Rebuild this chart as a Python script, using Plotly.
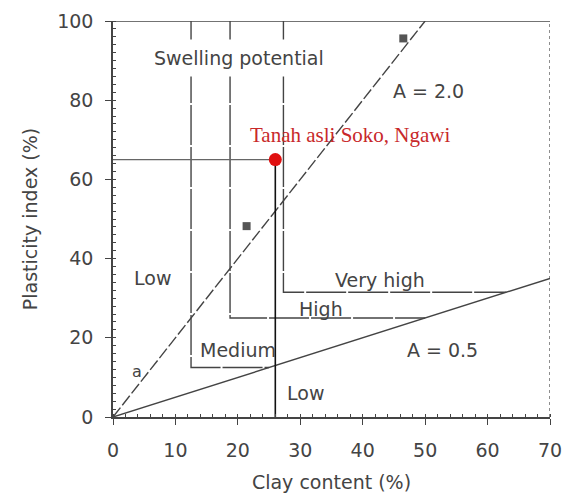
import plotly.graph_objects as go

# ---- data ----
clay_ticks = [0, 10, 20, 30, 40, 50, 60, 70]
pi_ticks = [0, 20, 40, 60, 80, 100]
activity_values = [2.0, 0.5]
activity_labels = ["A = 2.0", "A = 0.5"]
activity_label_x = [50.6, 52.7]
activity_label_y = [82.3, 16.9]

# staircase boundaries of swelling potential
boundary_x = [12.5, 18.75, 27.3]
boundary_bottom = [12.5, 25.0, 31.5]

zone_labels = ["Low", "Medium", "High", "Very high", "Low"]
zone_x = [6.4, 20.1, 33.3, 42.8, 30.9]
zone_y = [35.1, 16.9, 27.4, 34.5, 6.0]

sample_clay = [46.5, 21.4]
sample_pi = [95.6, 48.2]

soil_name = "Tanah asli Soko, Ngawi"
soil_clay = [26.0]
soil_pi = [65.0]

X_MAX, Y_MAX = 70, 100
ink = "#444444"
font_family = "DejaVu Sans, sans-serif"
FS = 19

fig = go.Figure()

# activity lines
for a in activity_values:
    x_end = min(X_MAX, Y_MAX / a)
    fig.add_trace(go.Scatter(x=[0, x_end], y=[0, a * x_end], mode="lines",
                             line=dict(color=ink, width=1.4,
                                       dash="12px,3px" if a > 1 else "solid"),
                             hoverinfo="skip", showlegend=False))

# staircase boundaries
low_a = min(activity_values)
for bx, bb in zip(boundary_x, boundary_bottom):
    fig.add_trace(go.Scatter(x=[bx, bx, bb / low_a], y=[Y_MAX, bb, bb], mode="lines",
                             line=dict(color=ink, width=1.4, dash="40px,2px"),
                             hoverinfo="skip", showlegend=False))

# reference lines to the soil point
fig.add_trace(go.Scatter(x=[0, soil_clay[0]], y=[soil_pi[0], soil_pi[0]], mode="lines",
                         line=dict(color="#666666", width=1.2),
                         hoverinfo="skip", showlegend=False))
fig.add_trace(go.Scatter(x=[soil_clay[0], soil_clay[0]], y=[soil_pi[0], 0], mode="lines",
                         line=dict(color="#111111", width=1.6),
                         hoverinfo="skip", showlegend=False))

# sample squares
fig.add_trace(go.Scatter(x=sample_clay, y=sample_pi, mode="markers",
                         marker=dict(symbol="square", size=8, color="#555555"),
                         showlegend=False))

# soil point
fig.add_trace(go.Scatter(x=soil_clay, y=soil_pi, mode="markers",
                         marker=dict(symbol="circle", size=13, color="#e01010"),
                         showlegend=False))

# borders (top solid, right dotted)
fig.add_shape(type="line", x0=0, x1=X_MAX, y0=Y_MAX, y1=Y_MAX,
              line=dict(color=ink, width=1.6))
fig.add_shape(type="line", x0=X_MAX, x1=X_MAX, y0=0, y1=Y_MAX,
              line=dict(color=ink, width=1.2, dash="dot"))

annotations = []
annotations.append(dict(x=20.2, y=90.7, text="Swelling potential", showarrow=False,
                        font=dict(size=FS, color=ink, family=font_family),
                        bgcolor="white", borderpad=7))
for t, x, y in zip(activity_labels, activity_label_x, activity_label_y):
    annotations.append(dict(x=x, y=y, text=t, showarrow=False,
                            font=dict(size=FS, color=ink, family=font_family)))
for t, x, y in zip(zone_labels, zone_x, zone_y):
    annotations.append(dict(x=x, y=y, text=t, showarrow=False,
                            font=dict(size=FS, color=ink, family=font_family)))
annotations.append(dict(x=3.8, y=11.5, text="a", showarrow=False,
                        font=dict(size=16, color=ink, family=font_family)))
annotations.append(dict(x=21.6, y=71.3, text=soil_name, showarrow=False, xanchor="left",
                        font=dict(size=21, color="#c8282a",
                                  family="Liberation Serif, Times New Roman, serif")))

fig.update_layout(
    width=567, height=496,
    margin=dict(l=113, r=17, t=21, b=79),
    paper_bgcolor="white", plot_bgcolor="white",
    annotations=annotations,
    font=dict(family=font_family, color=ink),
)
fig.update_xaxes(range=[0, X_MAX], tickvals=clay_ticks, ticktext=[str(v) for v in clay_ticks],
                 automargin=False,
                 showgrid=False, zeroline=False, showline=True, linecolor=ink, linewidth=1.6,
                 ticks="outside", ticklen=6, tickcolor=ink, tickwidth=1.4,
                 minor=dict(dtick=2, ticks="inside", ticklen=3, tickcolor=ink, tickwidth=1.4),
                 tickfont=dict(size=FS, color=ink, family=font_family), ticklabelstandoff=9,
                 title=dict(text="Clay content (%)",
                            font=dict(size=FS, color=ink, family=font_family), standoff=16))
fig.update_yaxes(range=[0, Y_MAX], tickvals=pi_ticks, ticktext=[str(v) for v in pi_ticks],
                 automargin=False,
                 showgrid=False, zeroline=False, showline=True, linecolor=ink, linewidth=1.6,
                 ticks="outside", ticklen=6, tickcolor=ink, tickwidth=1.4,
                 minor=dict(dtick=2, ticks="inside", ticklen=3, tickcolor=ink, tickwidth=1.4),
                 tickfont=dict(size=FS, color=ink, family=font_family), ticklabelstandoff=8,
                 title=dict(text="Plasticity index (%)",
                            font=dict(size=FS, color=ink, family=font_family), standoff=14))

fig.write_html("out.html")
